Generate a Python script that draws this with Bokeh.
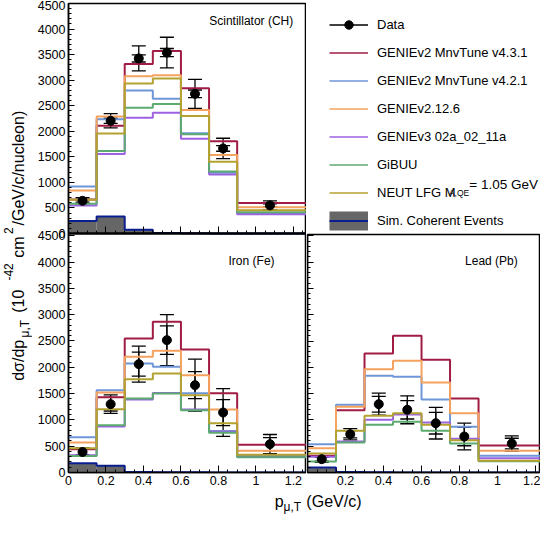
import math
from bokeh.plotting import figure
from bokeh.models import (Range1d, SingleIntervalTicker, FixedTicker, ColumnDataSource, Whisker,
                          TeeHead, Legend, LegendItem, GridBox, Label, CustomJSTickFormatter,
                          LinearAxis)
from bokeh.embed import file_html
from bokeh.resources import INLINE

FONT = "Liberation Sans"

# ---------------- data ----------------
bin_edges = [0.0, 0.15, 0.30, 0.45, 0.60, 0.75, 0.90, 2.50]
point_x = [0.075, 0.225, 0.375, 0.525, 0.675, 0.825, 1.075]
y_major = [0, 500, 1000, 1500, 2000, 2500, 3000, 3500, 4000, 4500]

model_labels = ["GENIEv2 MnvTune v4.3.1", "GENIEv2 MnvTune v4.2.1", "GENIEv2.12.6",
                "GENIEv3 02a_02_11a", "GiBUU", "NEUT LFG M"]
model_colors = ["#a01c44", "#6f96d9", "#f4a25e", "#9c62e2", "#5caa6f", "#b4a230"]

# Scintillator (CH)
ch_data = [640, 2205, 3425, 3540, 2733, 1664, 550]
ch_err_tot = [60, 140, 245, 300, 283, 200, 90]
ch_err_stat = [25, 50, 70, 80, 75, 55, 30]
ch_v431 = [665, 2109, 3317, 3572, 2840, 1803, 595]
ch_v421 = [920, 2236, 2796, 2637, 1960, 1190, 390]
ch_v2126 = [840, 2287, 3076, 3095, 2414, 1536, 515]
ch_v3 = [548, 1555, 2267, 2363, 1855, 1155, 375]
ch_gibuu = [580, 1612, 2458, 2535, 1943, 1212, 415]
ch_neut = [660, 1956, 2935, 3031, 2300, 1403, 455]
ch_coh = [245, 335, 73, 12, 4, 2, 1]

# Iron (Fe)
fe_data = [390, 1299, 2060, 2516, 1660, 1140, 539]
fe_err_tot = [80, 175, 342, 485, 495, 453, 183]
fe_err_stat = [50, 130, 228, 270, 256, 247, 125]
fe_v431 = [443, 1430, 2548, 2865, 2338, 1508, 526]
fe_v421 = [670, 1565, 2072, 2009, 1508, 790, 320]
fe_v2126 = [570, 1521, 2199, 2313, 1850, 1198, 412]
fe_v3 = [330, 875, 1390, 1510, 1200, 775, 300]
fe_gibuu = [315, 900, 1407, 1502, 1185, 755, 290]
fe_neut = [460, 1204, 1774, 1882, 1470, 937, 336]
fe_coh = [175, 130, 10, 5, 3, 2, 1]

# Lead (Pb)
pb_data = [253, 728, 1299, 1192, 937, 684, 551]
pb_err_tot = [60, 108, 210, 265, 300, 253, 145]
pb_err_stat = [35, 70, 150, 175, 205, 175, 100]
pb_v431 = [317, 1185, 2262, 2599, 2142, 1405, 513]
pb_v421 = [539, 1290, 1838, 1819, 1390, 870, 317]
pb_v2126 = [460, 1252, 1964, 2123, 1711, 1128, 412]
pb_v3 = [300, 589, 1001, 1105, 950, 640, 272]
pb_gibuu = [209, 570, 906, 966, 792, 551, 215]
pb_neut = [361, 792, 1077, 1128, 910, 615, 225]
pb_coh = [95, 8, 3, 2, 1, 1, 1]

COH_FILL = "#666666"
COH_LINE = "#0b1e8f"

X_FMT = CustomJSTickFormatter(code="return tick.toFixed(1).replace(/\\.0$/, '');")
X_FMT_NOZERO = CustomJSTickFormatter(
    code="if (Math.abs(tick) < 1e-9) { return ''; } return tick.toFixed(1).replace(/\\.0$/, '');")
EMPTY_FMT = CustomJSTickFormatter(code="return '';")


def style_axis(ax, horizontal):
    if horizontal:
        ax.ticker = SingleIntervalTicker(interval=0.2, num_minor_ticks=4)
        ax.major_tick_in = 7
    else:
        ax.ticker = SingleIntervalTicker(interval=500, num_minor_ticks=5)
        ax.major_tick_in = 6
    ax.major_tick_out = 0
    ax.minor_tick_out = 0
    ax.minor_tick_in = 3
    ax.axis_line_width = 1.5
    ax.major_tick_line_width = 1
    ax.minor_tick_line_width = 1
    ax.major_label_text_font = FONT
    ax.major_label_text_font_size = "12.5px"
    ax.major_label_text_color = "black"
    ax.major_label_standoff = 3


def step_xy(vals):
    return bin_edges, list(vals) + [vals[-1]]


def draw_panel(p, rname, models, data, etot, estat, coh, name, name_x, name_y):
    p.quad(left=bin_edges[:-1], right=bin_edges[1:], bottom=0, top=coh,
           fill_color=COH_FILL, line_color=None, y_range_name=rname)
    sx, sy = step_xy(coh)
    p.step(sx, sy, mode="after", line_color=COH_LINE, line_width=2, y_range_name=rname)
    for vals, col in zip(models, model_colors):
        sx, sy = step_xy(vals)
        p.step(sx, sy, mode="after", line_color=col, line_width=2, y_range_name=rname)
    src = ColumnDataSource(dict(
        x=point_x, y=data,
        up_t=[d + e for d, e in zip(data, etot)], lo_t=[d - e for d, e in zip(data, etot)],
        up_s=[d + e for d, e in zip(data, estat)], lo_s=[d - e for d, e in zip(data, estat)],
    ))
    p.scatter("x", "y", source=src, size=9, fill_color="black", line_color="black",
              y_range_name=rname)
    for up, lo in (("up_t", "lo_t"), ("up_s", "lo_s")):
        w = Whisker(base="x", upper=up, lower=lo, source=src, dimension="height",
                    line_color="black", line_width=1.3, y_range_name=rname,
                    upper_head=TeeHead(size=14, line_color="black", line_width=1.3),
                    lower_head=TeeHead(size=14, line_color="black", line_width=1.3))
        p.add_layout(w)
    p.add_layout(Label(x=name_x, y=name_y, text=name, text_font=FONT, text_font_size="12px",
                       text_color="black", text_align="left", text_baseline="middle",
                       y_range_name=rname))


# ---------------- left column: CH (top) and Fe (bottom) share one frame ----------------
FE_TOP = 8916      # frame spans 469 px; Fe: 0 at frame bottom
CH_START = -4676   # CH: 0 sits on the divider line, 4500 at frame top
CH_END = 4500
SPLIT = 4520       # default-range value separating the Fe and CH halves


def ch_to_default(v):
    # position of a CH-panel value expressed in the shared (default) y range
    return (v - CH_START) / (CH_END - CH_START) * FE_TOP


p_left = figure(width=274, height=490, x_range=Range1d(0, 1.27), y_range=Range1d(0, FE_TOP),
                output_backend="svg", toolbar_location=None,
                min_border_left=36, min_border_right=0, min_border_top=3, min_border_bottom=18)
p_left.extra_y_ranges = {"ch": Range1d(CH_START, CH_END)}
p_left.grid.visible = False
p_left.outline_line_color = "black"
p_left.outline_line_width = 1.5

style_axis(p_left.xaxis[0], True)
p_left.xaxis[0].formatter = X_FMT

yax = p_left.yaxis[0]
style_axis(yax, False)
minor_vals = [v for v in range(0, 4501, 100) if v % 500]
yax.ticker = FixedTicker(ticks=y_major + [ch_to_default(v) for v in y_major],
                         minor_ticks=minor_vals + [ch_to_default(v) for v in minor_vals])
yax.formatter = CustomJSTickFormatter(
    args=dict(split=SPLIT, top=FE_TOP, c0=CH_START, c1=CH_END),
    code="""
    if (tick > split) { return String(Math.round(c0 + tick / top * (c1 - c0))); }
    return String(Math.round(tick));
    """)

ax_ch_x = LinearAxis(y_range_name="ch", fixed_location=0)
style_axis(ax_ch_x, True)
ax_ch_x.formatter = EMPTY_FMT
ax_ch_x.axis_line_width = 2.5
p_left.add_layout(ax_ch_x, "below")

draw_panel(p_left, "ch", [ch_v431, ch_v421, ch_v2126, ch_v3, ch_gibuu, ch_neut],
           ch_data, ch_err_tot, ch_err_stat, ch_coh, "Scintillator (CH)", 0.751, 4165)
draw_panel(p_left, "default", [fe_v431, fe_v421, fe_v2126, fe_v3, fe_gibuu, fe_neut],
           fe_data, fe_err_tot, fe_err_stat, fe_coh, "Iron (Fe)", 0.854, 4030)

# ---------------- Pb panel ----------------
p_pb = figure(width=234, height=257, x_range=Range1d(0, 1.226), y_range=Range1d(0, 4525),
              output_backend="svg", toolbar_location=None,
              min_border_left=1, min_border_right=0, min_border_top=1, min_border_bottom=18)
p_pb.grid.visible = False
p_pb.outline_line_color = "black"
p_pb.outline_line_width = 1.5
style_axis(p_pb.xaxis[0], True)
p_pb.xaxis[0].formatter = X_FMT_NOZERO
style_axis(p_pb.yaxis[0], False)
p_pb.yaxis[0].formatter = EMPTY_FMT
p_pb.yaxis[0].fixed_location = 0
draw_panel(p_pb, "default", [pb_v431, pb_v421, pb_v2126, pb_v3, pb_gibuu, pb_neut],
           pb_data, pb_err_tot, pb_err_stat, pb_coh, "Lead (Pb)", 0.829, 4030)

# ---------------- legend ----------------
p_leg = figure(width=234, height=233, x_range=Range1d(0, 234), y_range=Range1d(0, 233),
               x_axis_type=None, y_axis_type=None, output_backend="svg",
               toolbar_location=None, min_border=0)
p_leg.outline_line_color = None

HX, HY = [-50, -40], [-50, -40]   # off-canvas placeholders, only used for legend swatches
items = []
r_line = p_leg.line(x=HX, y=HY, line_color="black", line_width=1.3)
r_dot = p_leg.scatter(x=HX, y=HY, size=9, fill_color="black", line_color="black")
r_bar = p_leg.scatter(x=HX, y=HY, marker="dash", angle=math.pi / 2, size=9,
                      line_color="black", line_width=1.3)
items.append(LegendItem(label="Data", renderers=[r_line, r_bar, r_dot]))
for lab, col in zip(model_labels, model_colors):
    r = p_leg.line(x=HX, y=HY, line_color=col, line_width=1.3)
    items.append(LegendItem(label=lab, renderers=[r]))
r_cf = p_leg.line(x=HX, y=HY, line_color=COH_FILL, line_width=19, line_cap="butt")
r_cl = p_leg.line(x=HX, y=HY, line_color=COH_LINE, line_width=2)
items.append(LegendItem(label="Sim. Coherent Events", renderers=[r_cf, r_cl]))

legend = Legend(items=items, location=(22, 2), orientation="vertical",
                glyph_width=39, glyph_height=21, label_height=21, spacing=7,
                label_standoff=9, padding=0, margin=0, border_line_color=None,
                background_fill_alpha=0, label_text_font=FONT, label_text_font_size="13px",
                label_text_color="black")
p_leg.add_layout(legend, "center")
p_leg.add_layout(Label(x=142, y=41.5, text="A,QE", text_font=FONT, text_font_size="8.5px",
                       text_color="black", text_align="left", text_baseline="alphabetic"))
p_leg.add_layout(Label(x=162.5, y=49.7, text="= 1.05 GeV", text_font=FONT,
                       text_font_size="13.5px", text_color="black", text_align="left",
                       text_baseline="middle"))

# ---------------- y title ----------------
p_yt = figure(width=32, height=516, x_range=Range1d(0, 32), y_range=Range1d(0, 516),
              x_axis_type=None, y_axis_type=None, output_backend="svg",
              toolbar_location=None, min_border=0)
p_yt.outline_line_color = None
ytitle_parts = [("d\u03c3/dp", 17.5, 157.1, "16px"), ("\u03bc,T", 24, 189, "12px"),
                ("(10", 17.5, 216.6, "16px"), ("-42", 8, 246, "12px"),
                ("cm", 17.5, 271, "16px"), ("2", 8, 287.4, "12px"),
                ("/GeV/c/nucleon)", 17.5, 350.4, "16px")]
for txt, x, y, fs in ytitle_parts:
    p_yt.add_layout(Label(x=x, y=y, text=txt, angle=math.pi / 2, text_font=FONT,
                          text_font_size=fs, text_color="black", text_align="center",
                          text_baseline="middle"))

# ---------------- x title ----------------
p_xt = figure(width=508, height=26, x_range=Range1d(0, 508), y_range=Range1d(0, 26),
              x_axis_type=None, y_axis_type=None, output_backend="svg",
              toolbar_location=None, min_border=0)
p_xt.outline_line_color = None
xtitle_parts = [("p", 222, 15.5, "16px"), ("\u03bc,T", 231.5, 9.5, "12px"),
                ("(GeV/c)", 256, 15.5, "16px")]
for txt, x, y, fs in xtitle_parts:
    p_xt.add_layout(Label(x=x, y=y, text=txt, text_font=FONT, text_font_size=fs,
                          text_color="black", text_align="left", text_baseline="middle"))

grid = GridBox(children=[
    (p_yt, 0, 0, 3, 1),
    (p_left, 0, 1, 2, 1),
    (p_leg, 0, 2),
    (p_pb, 1, 2),
    (p_xt, 2, 1, 1, 2),
], spacing=0)

open("out.html", "w").write(file_html(grid, INLINE))
